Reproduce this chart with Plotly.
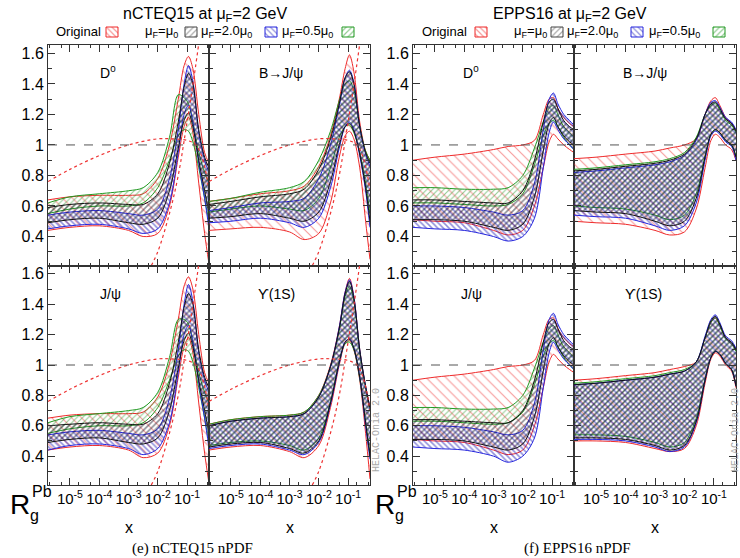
import plotly.graph_objects as go

W, H = 740, 558

# ---------------- data ----------------
X_GRID = [1.78e-6, 1e-5, 1e-4, 1e-3, 3.16e-3, 1e-2, 2.51e-2, 5.01e-2, 7.94e-2, 0.112, 0.158, 0.251, 0.398, 0.562]
X_TICKS = [1e-5, 1e-4, 1e-3, 1e-2, 1e-1]
X_TICKTEXT = ["10<sup>-5</sup>", "10<sup>-4</sup>", "10<sup>-3</sup>", "10<sup>-2</sup>", "10<sup>-1</sup>"]
Y_TICKS = [0.4, 0.6, 0.8, 1.0, 1.2, 1.4, 1.6]
Y_TICKTEXT = ["0.4", "0.6", "0.8", "1", "1.2", "1.4", "1.6"]
LEGEND_LABELS = ["Original", "μ<sub>F</sub>=μ<sub>0</sub>", "μ<sub>F</sub>=2.0μ<sub>0</sub>", "μ<sub>F</sub>=0.5μ<sub>0</sub>"]
PANEL_LABELS = ["D<sup>0</sup>", "B→J/ψ", "J/ψ", "ϒ(1S)"]

# nCTEQ15, D0
NC_D0_ORIG_HI = [0.64, 0.66, 0.67, 0.67, 0.68, 0.78, 1.00, 1.30, 1.52, 1.58, 1.50, 1.20, 0.95, 0.88]
NC_D0_ORIG_LO = [0.44, 0.46, 0.47, 0.44, 0.40, 0.42, 0.60, 0.92, 1.12, 1.18, 1.08, 0.75, 0.42, 0.22]
NC_D0_MU1_HI = [0.59, 0.61, 0.62, 0.61, 0.61, 0.68, 0.88, 1.15, 1.38, 1.47, 1.40, 1.10, 0.92, 0.85]
NC_D0_MU1_LO = [0.49, 0.51, 0.52, 0.49, 0.48, 0.52, 0.70, 0.98, 1.16, 1.21, 1.12, 0.90, 0.70, 0.55]
NC_D0_MU2_HI = [0.54, 0.56, 0.57, 0.55, 0.54, 0.58, 0.78, 1.10, 1.40, 1.52, 1.42, 1.08, 0.90, 0.82]
NC_D0_MU2_LO = [0.45, 0.47, 0.48, 0.45, 0.42, 0.45, 0.62, 0.95, 1.20, 1.26, 1.15, 0.88, 0.65, 0.45]
NC_D0_MU05_HI = [0.62, 0.66, 0.68, 0.70, 0.72, 0.82, 1.05, 1.33, 1.31, 1.27, 1.15, 0.95, 0.82, 0.75]
NC_D0_MU05_LO = [0.55, 0.58, 0.60, 0.60, 0.62, 0.72, 0.90, 1.06, 1.10, 1.09, 1.02, 0.85, 0.65, 0.50]

# nCTEQ15, B->J/psi
NC_BJ_ORIG_HI = [0.63, 0.65, 0.68, 0.70, 0.73, 0.86, 1.06, 1.30, 1.50, 1.59, 1.48, 1.15, 0.96, 0.90]
NC_BJ_ORIG_LO = [0.44, 0.45, 0.46, 0.43, 0.38, 0.42, 0.62, 0.92, 1.06, 1.09, 1.04, 0.85, 0.50, 0.25]
NC_BJ_MU1_HI = [0.61, 0.63, 0.66, 0.68, 0.71, 0.84, 1.04, 1.27, 1.44, 1.48, 1.40, 1.12, 0.95, 0.88]
NC_BJ_MU1_LO = [0.52, 0.53, 0.55, 0.52, 0.50, 0.56, 0.76, 1.00, 1.12, 1.14, 1.09, 0.94, 0.72, 0.50]
NC_BJ_MU2_HI = [0.57, 0.59, 0.62, 0.63, 0.65, 0.78, 1.00, 1.26, 1.44, 1.49, 1.41, 1.12, 0.94, 0.86]
NC_BJ_MU2_LO = [0.49, 0.50, 0.52, 0.49, 0.46, 0.52, 0.72, 0.98, 1.12, 1.15, 1.10, 0.93, 0.70, 0.46]
NC_BJ_MU05_HI = [0.63, 0.65, 0.69, 0.72, 0.76, 0.90, 1.09, 1.29, 1.40, 1.42, 1.36, 1.12, 0.96, 0.90]
NC_BJ_MU05_LO = [0.56, 0.58, 0.60, 0.58, 0.57, 0.65, 0.85, 1.05, 1.12, 1.13, 1.08, 0.95, 0.75, 0.55]

# nCTEQ15, J/psi
NC_JP_ORIG_HI = [0.65, 0.67, 0.68, 0.68, 0.69, 0.79, 1.01, 1.30, 1.52, 1.58, 1.50, 1.20, 0.95, 0.88]
NC_JP_ORIG_LO = [0.44, 0.46, 0.47, 0.44, 0.39, 0.42, 0.60, 0.92, 1.12, 1.18, 1.08, 0.75, 0.42, 0.22]
NC_JP_MU1_HI = [0.60, 0.61, 0.62, 0.61, 0.61, 0.68, 0.88, 1.15, 1.38, 1.47, 1.40, 1.10, 0.92, 0.85]
NC_JP_MU1_LO = [0.49, 0.51, 0.52, 0.49, 0.48, 0.52, 0.70, 0.98, 1.16, 1.21, 1.12, 0.90, 0.70, 0.55]
NC_JP_MU2_HI = [0.54, 0.56, 0.57, 0.55, 0.54, 0.58, 0.78, 1.10, 1.40, 1.53, 1.42, 1.08, 0.90, 0.82]
NC_JP_MU2_LO = [0.44, 0.47, 0.48, 0.45, 0.41, 0.45, 0.62, 0.95, 1.20, 1.26, 1.15, 0.88, 0.65, 0.45]
NC_JP_MU05_HI = [0.62, 0.66, 0.68, 0.70, 0.72, 0.82, 1.05, 1.30, 1.30, 1.27, 1.15, 0.95, 0.82, 0.75]
NC_JP_MU05_LO = [0.55, 0.58, 0.60, 0.60, 0.62, 0.72, 0.90, 1.06, 1.10, 1.09, 1.02, 0.85, 0.65, 0.50]

# nCTEQ15, Upsilon(1S)
NC_UP_ORIG_HI = [0.61, 0.64, 0.66, 0.67, 0.69, 0.80, 1.00, 1.25, 1.48, 1.57, 1.45, 1.10, 0.85, 0.70]
NC_UP_ORIG_LO = [0.44, 0.46, 0.47, 0.43, 0.39, 0.47, 0.72, 1.00, 1.14, 1.16, 1.10, 0.90, 0.55, 0.25]
NC_UP_MU1_HI = [0.60, 0.63, 0.65, 0.66, 0.68, 0.79, 0.99, 1.24, 1.47, 1.55, 1.44, 1.10, 0.86, 0.72]
NC_UP_MU1_LO = [0.46, 0.48, 0.49, 0.45, 0.42, 0.50, 0.75, 1.02, 1.15, 1.17, 1.11, 0.92, 0.62, 0.40]
NC_UP_MU2_HI = [0.60, 0.63, 0.65, 0.66, 0.68, 0.79, 0.99, 1.25, 1.48, 1.56, 1.45, 1.10, 0.86, 0.72]
NC_UP_MU2_LO = [0.45, 0.47, 0.48, 0.44, 0.41, 0.49, 0.74, 1.01, 1.15, 1.17, 1.11, 0.92, 0.60, 0.38]
NC_UP_MU05_HI = [0.61, 0.64, 0.66, 0.67, 0.69, 0.80, 0.99, 1.23, 1.45, 1.52, 1.42, 1.08, 0.85, 0.70]
NC_UP_MU05_LO = [0.47, 0.49, 0.50, 0.47, 0.44, 0.52, 0.76, 1.02, 1.14, 1.15, 1.10, 0.91, 0.62, 0.42]

# nCTEQ15 original nPDF curves (red dotted)
NC_DOT1_X = [1.78e-6, 1e-5, 1e-4, 1e-3, 1e-2, 3e-2, 1e-1, 0.2, 0.35, 0.562]
NC_DOT1_Y = [0.76, 0.84, 0.93, 1.00, 1.04, 1.04, 1.03, 1.00, 0.90, 0.70]
NC_DOT2_X = [6e-3, 1e-2, 2.5e-2, 5e-2, 0.1, 0.16, 0.25]
NC_DOT2_Y = [0.21, 0.30, 0.55, 0.80, 1.15, 1.40, 1.66]

# EPPS16, D0
EP_D0_ORIG_HI = [0.90, 0.92, 0.94, 0.97, 0.99, 1.00, 1.03, 1.20, 1.30, 1.31, 1.24, 1.18, 1.14, 1.12]
EP_D0_ORIG_LO = [0.51, 0.50, 0.49, 0.44, 0.41, 0.44, 0.60, 0.85, 1.02, 1.07, 1.04, 1.00, 0.97, 0.95]
EP_D0_MU1_HI = [0.64, 0.64, 0.63, 0.62, 0.62, 0.70, 0.90, 1.15, 1.28, 1.30, 1.24, 1.16, 1.12, 1.10]
EP_D0_MU1_LO = [0.51, 0.51, 0.50, 0.46, 0.44, 0.48, 0.66, 0.96, 1.14, 1.18, 1.12, 1.06, 1.02, 1.00]
EP_D0_MU2_HI = [0.60, 0.60, 0.59, 0.56, 0.54, 0.57, 0.75, 1.10, 1.30, 1.34, 1.27, 1.20, 1.16, 1.13]
EP_D0_MU2_LO = [0.46, 0.45, 0.44, 0.40, 0.37, 0.40, 0.52, 0.85, 1.08, 1.15, 1.10, 1.04, 1.00, 0.97]
EP_D0_MU05_HI = [0.72, 0.72, 0.71, 0.71, 0.72, 0.80, 0.98, 1.15, 1.24, 1.26, 1.20, 1.12, 1.08, 1.05]
EP_D0_MU05_LO = [0.62, 0.62, 0.61, 0.60, 0.61, 0.68, 0.87, 1.06, 1.14, 1.16, 1.12, 1.05, 1.00, 0.97]

# EPPS16, B->J/psi
EP_BJ_ORIG_HI = [0.91, 0.92, 0.94, 0.96, 0.98, 1.00, 1.04, 1.20, 1.29, 1.31, 1.26, 1.18, 1.14, 1.10]
EP_BJ_ORIG_LO = [0.50, 0.49, 0.48, 0.44, 0.41, 0.43, 0.58, 0.85, 1.03, 1.07, 1.05, 1.00, 0.97, 0.90]
EP_BJ_MU1_HI = [0.83, 0.84, 0.86, 0.88, 0.90, 0.94, 1.04, 1.20, 1.27, 1.28, 1.24, 1.17, 1.14, 1.09]
EP_BJ_MU1_LO = [0.57, 0.56, 0.55, 0.50, 0.47, 0.50, 0.65, 0.92, 1.07, 1.10, 1.08, 1.03, 1.00, 0.92]
EP_BJ_MU2_HI = [0.82, 0.83, 0.85, 0.87, 0.89, 0.93, 1.03, 1.20, 1.28, 1.29, 1.25, 1.18, 1.15, 1.10]
EP_BJ_MU2_LO = [0.54, 0.53, 0.52, 0.47, 0.44, 0.47, 0.62, 0.90, 1.06, 1.09, 1.07, 1.02, 0.99, 0.90]
EP_BJ_MU05_HI = [0.84, 0.85, 0.87, 0.89, 0.91, 0.95, 1.05, 1.20, 1.26, 1.27, 1.23, 1.16, 1.13, 1.08]
EP_BJ_MU05_LO = [0.60, 0.59, 0.58, 0.54, 0.51, 0.54, 0.68, 0.93, 1.07, 1.10, 1.08, 1.03, 1.00, 0.93]

# EPPS16, J/psi
EP_JP_ORIG_HI = [0.90, 0.92, 0.94, 0.97, 0.99, 1.00, 1.03, 1.20, 1.30, 1.31, 1.24, 1.18, 1.14, 1.12]
EP_JP_ORIG_LO = [0.51, 0.50, 0.49, 0.44, 0.41, 0.44, 0.60, 0.85, 1.02, 1.07, 1.04, 1.00, 0.97, 0.95]
EP_JP_MU1_HI = [0.64, 0.64, 0.63, 0.62, 0.62, 0.70, 0.90, 1.15, 1.28, 1.30, 1.24, 1.16, 1.12, 1.10]
EP_JP_MU1_LO = [0.51, 0.51, 0.50, 0.46, 0.44, 0.48, 0.66, 0.96, 1.14, 1.18, 1.12, 1.06, 1.02, 1.00]
EP_JP_MU2_HI = [0.60, 0.60, 0.59, 0.56, 0.54, 0.57, 0.75, 1.10, 1.30, 1.34, 1.27, 1.20, 1.16, 1.13]
EP_JP_MU2_LO = [0.46, 0.45, 0.44, 0.40, 0.36, 0.40, 0.52, 0.85, 1.08, 1.15, 1.10, 1.04, 1.00, 0.97]
EP_JP_MU05_HI = [0.72, 0.72, 0.71, 0.71, 0.72, 0.80, 0.98, 1.15, 1.24, 1.26, 1.20, 1.12, 1.08, 1.05]
EP_JP_MU05_LO = [0.63, 0.63, 0.62, 0.61, 0.62, 0.69, 0.87, 1.06, 1.14, 1.16, 1.12, 1.05, 1.00, 0.97]

# EPPS16, Upsilon(1S)
EP_UP_ORIG_HI = [0.90, 0.91, 0.93, 0.95, 0.97, 0.99, 1.02, 1.18, 1.28, 1.31, 1.26, 1.18, 1.14, 1.10]
EP_UP_ORIG_LO = [0.50, 0.50, 0.49, 0.45, 0.43, 0.45, 0.60, 0.88, 1.04, 1.08, 1.06, 1.00, 0.96, 0.85]
EP_UP_MU1_HI = [0.87, 0.88, 0.90, 0.92, 0.94, 0.96, 1.02, 1.18, 1.29, 1.32, 1.27, 1.18, 1.15, 1.10]
EP_UP_MU1_LO = [0.52, 0.52, 0.51, 0.47, 0.44, 0.47, 0.63, 0.90, 1.05, 1.09, 1.07, 1.01, 0.97, 0.86]
EP_UP_MU2_HI = [0.87, 0.88, 0.90, 0.92, 0.94, 0.96, 1.02, 1.19, 1.30, 1.33, 1.28, 1.19, 1.16, 1.11]
EP_UP_MU2_LO = [0.51, 0.51, 0.50, 0.46, 0.43, 0.46, 0.62, 0.90, 1.05, 1.09, 1.07, 1.01, 0.97, 0.86]
EP_UP_MU05_HI = [0.88, 0.89, 0.91, 0.93, 0.95, 0.97, 1.02, 1.18, 1.28, 1.31, 1.26, 1.17, 1.14, 1.09]
EP_UP_MU05_LO = [0.54, 0.54, 0.53, 0.49, 0.46, 0.49, 0.65, 0.91, 1.05, 1.09, 1.07, 1.01, 0.97, 0.87]

# ---------------- styles ----------------
# (line colour, pattern colour, shape, size, solidity)
STY_ORIG = ("#ee2a2a", "#ee3333", "\\", 7, 0.16)
STY_MU1 = ("#111111", "#1c1c2c", "/", 4, 0.4)
STY_MU2 = ("#2424dd", "#1e1eb8", "\\", 4, 0.38)
STY_MU05 = ("#229922", "#2a9a2a", "/", 4, 0.28)

PANELS = [
    (1, [(NC_D0_ORIG_LO, NC_D0_ORIG_HI, STY_ORIG), (NC_D0_MU05_LO, NC_D0_MU05_HI, STY_MU05),
         (NC_D0_MU2_LO, NC_D0_MU2_HI, STY_MU2), (NC_D0_MU1_LO, NC_D0_MU1_HI, STY_MU1)], True),
    (2, [(NC_BJ_ORIG_LO, NC_BJ_ORIG_HI, STY_ORIG), (NC_BJ_MU05_LO, NC_BJ_MU05_HI, STY_MU05),
         (NC_BJ_MU2_LO, NC_BJ_MU2_HI, STY_MU2), (NC_BJ_MU1_LO, NC_BJ_MU1_HI, STY_MU1)], True),
    (3, [(NC_JP_ORIG_LO, NC_JP_ORIG_HI, STY_ORIG), (NC_JP_MU05_LO, NC_JP_MU05_HI, STY_MU05),
         (NC_JP_MU2_LO, NC_JP_MU2_HI, STY_MU2), (NC_JP_MU1_LO, NC_JP_MU1_HI, STY_MU1)], True),
    (4, [(NC_UP_ORIG_LO, NC_UP_ORIG_HI, STY_ORIG), (NC_UP_MU05_LO, NC_UP_MU05_HI, STY_MU05),
         (NC_UP_MU2_LO, NC_UP_MU2_HI, STY_MU2), (NC_UP_MU1_LO, NC_UP_MU1_HI, STY_MU1)], True),
    (5, [(EP_D0_ORIG_LO, EP_D0_ORIG_HI, STY_ORIG), (EP_D0_MU05_LO, EP_D0_MU05_HI, STY_MU05),
         (EP_D0_MU2_LO, EP_D0_MU2_HI, STY_MU2), (EP_D0_MU1_LO, EP_D0_MU1_HI, STY_MU1)], False),
    (6, [(EP_BJ_ORIG_LO, EP_BJ_ORIG_HI, STY_ORIG), (EP_BJ_MU05_LO, EP_BJ_MU05_HI, STY_MU05),
         (EP_BJ_MU2_LO, EP_BJ_MU2_HI, STY_MU2), (EP_BJ_MU1_LO, EP_BJ_MU1_HI, STY_MU1)], False),
    (7, [(EP_JP_ORIG_LO, EP_JP_ORIG_HI, STY_ORIG), (EP_JP_MU05_LO, EP_JP_MU05_HI, STY_MU05),
         (EP_JP_MU2_LO, EP_JP_MU2_HI, STY_MU2), (EP_JP_MU1_LO, EP_JP_MU1_HI, STY_MU1)], False),
    (8, [(EP_UP_ORIG_LO, EP_UP_ORIG_HI, STY_ORIG), (EP_UP_MU05_LO, EP_UP_MU05_HI, STY_MU05),
         (EP_UP_MU2_LO, EP_UP_MU2_HI, STY_MU2), (EP_UP_MU1_LO, EP_UP_MU1_HI, STY_MU1)], False),
]

# panel geometry in pixels
COLS = [(48, 209), (209, 370), (413, 574), (574, 736)]
ROWS = [(45, 265.5), (265.5, 485)]
AX_POS = {1: (0, 0), 2: (1, 0), 3: (0, 1), 4: (1, 1), 5: (2, 0), 6: (3, 0), 7: (2, 1), 8: (3, 1)}
XR = [-5.75, -0.25]
YR = [0.21, 1.655]
FONT = "Liberation Sans, Arial, sans-serif"


def px(x):
    return x / W


def py(y):
    return 1 - y / H


fig = go.Figure()

for idx, bands, dotted in PANELS:
    xa = "x" if idx == 1 else f"x{idx}"
    ya = "y" if idx == 1 else f"y{idx}"
    for lo, hi, (lc, pc, shp, sz, sol) in bands:
        fig.add_trace(go.Scatter(x=X_GRID, y=lo, xaxis=xa, yaxis=ya, mode="lines",
                                 line=dict(color=lc, width=1, shape="spline", smoothing=0.9),
                                 showlegend=False, hoverinfo="skip"))
        fig.add_trace(go.Scatter(x=X_GRID, y=hi, xaxis=xa, yaxis=ya, mode="lines",
                                 line=dict(color=lc, width=1, shape="spline", smoothing=0.9),
                                 fill="tonexty", fillcolor="rgba(0,0,0,0)",
                                 fillpattern=dict(shape=shp, fgcolor=pc, bgcolor="rgba(0,0,0,0)",
                                                  size=sz, solidity=sol),
                                 showlegend=False, hoverinfo="skip"))
    if dotted:
        for dx, dy in ((NC_DOT1_X, NC_DOT1_Y), (NC_DOT2_X, NC_DOT2_Y)):
            fig.add_trace(go.Scatter(x=dx, y=dy, xaxis=xa, yaxis=ya, mode="lines",
                                     line=dict(color="#ee3333", width=1.2, dash="dot", shape="spline"),
                                     showlegend=False, hoverinfo="skip"))

layout = dict(
    width=W, height=H, margin=dict(l=0, r=0, t=0, b=0),
    paper_bgcolor="white", plot_bgcolor="rgba(0,0,0,0)",
    font=dict(family=FONT, color="black"), showlegend=False,
)

for idx, (c, r) in AX_POS.items():
    x0, x1 = COLS[c]
    y0, y1 = ROWS[r]
    xk = "xaxis" if idx == 1 else f"xaxis{idx}"
    yk = "yaxis" if idx == 1 else f"yaxis{idx}"
    bottom = r == 1
    left = c in (0, 2)
    layout[xk] = dict(
        domain=[px(x0), px(x1)], anchor="y" if idx == 1 else f"y{idx}", type="log", range=XR,
        showgrid=False, zeroline=False, showline=True, linecolor="#333", linewidth=1, mirror="ticks",
        ticks="inside", ticklen=7, tickcolor="#333", tickvals=X_TICKS, ticktext=X_TICKTEXT,
        showticklabels=bottom, tickangle=0, tickfont=dict(size=15, family=FONT),
        minor=dict(ticks="inside", ticklen=3, tickcolor="#333", showgrid=False),
    )
    layout[yk] = dict(
        domain=[py(y1), py(y0)], anchor="x" if idx == 1 else f"x{idx}", range=YR,
        showgrid=False, zeroline=False, showline=True, linecolor="#333", linewidth=1, mirror="ticks",
        ticks="inside", ticklen=7, tickcolor="#333", tickvals=Y_TICKS, ticktext=Y_TICKTEXT,
        showticklabels=left, tickfont=dict(size=16, family=FONT),
        minor=dict(ticks="inside", ticklen=4, tickcolor="#333", dtick=0.1, showgrid=False),
    )

# overlay axis in pixel coordinates for legend swatches
layout["xaxis9"] = dict(domain=[0, 1], range=[0, W], visible=False, anchor="y9")
layout["yaxis9"] = dict(domain=[0, 1], range=[H, 0], visible=False, anchor="x9")
fig.update_layout(**layout)

shapes = []
for idx in AX_POS:
    xr = "x" if idx == 1 else f"x{idx}"
    yr = "y" if idx == 1 else f"y{idx}"
    shapes.append(dict(type="line", xref=f"{xr} domain", yref=yr, x0=0, x1=1, y0=1, y1=1,
                       line=dict(color="#555", width=1, dash="dash")))
fig.update_layout(shapes=shapes)

ann = []
FIG_SPECS = [
    ("nCTEQ15 at μ<sub>F</sub>=2 GeV", 205, "(e) nCTEQ15 nPDF", 192,
     [(78, 112), (161, 191), (227, 271), (307, 348)]),
    ("EPPS16 at μ<sub>F</sub>=2 GeV", 570, "(f) EPPS16 nPDF", 577,
     [(444, 481), (530, 557), (592, 637), (674, 719)]),
]
SWATCH = [STY_ORIG, STY_MU1, STY_MU2, STY_MU05]
for title, tx, cap, cx, leg in FIG_SPECS:
    ann.append(dict(text=title, x=px(tx), y=py(15), xref="paper", yref="paper", showarrow=False,
                    font=dict(size=16, family=FONT), xanchor="center", yanchor="middle"))
    ann.append(dict(text=cap, x=px(cx), y=py(548), xref="paper", yref="paper", showarrow=False,
                    font=dict(size=15, family="Liberation Serif, Times New Roman, serif"),
                    xanchor="center", yanchor="middle"))
    for (lx, bx), lab, (lc, pc, shp, sz, sol) in zip(leg, LEGEND_LABELS, SWATCH):
        ann.append(dict(text=lab, x=px(lx), y=py(32), xref="paper", yref="paper", showarrow=False,
                        font=dict(size=13, family=FONT), xanchor="center", yanchor="middle"))
        fig.add_trace(go.Scatter(x=[bx - 6, bx + 6, bx + 6, bx - 6, bx - 6],
                                 y=[27, 27, 37, 37, 27], xaxis="x9", yaxis="y9", mode="lines",
                                 line=dict(color=lc if lc != "#111111" else "#444", width=1),
                                 fill="toself", fillcolor="rgba(0,0,0,0)",
                                 fillpattern=dict(shape=shp, fgcolor=pc if pc != "#1c1c2c" else "#555",
                                                  bgcolor="rgba(0,0,0,0)", size=4, solidity=0.3),
                                 showlegend=False, hoverinfo="skip"))

for x0 in (20, 385):
    ann.append(dict(text="R", x=px(x0), y=py(504), xref="paper", yref="paper", showarrow=False,
                    font=dict(size=28, family=FONT), xanchor="center", yanchor="middle"))
    ann.append(dict(text="Pb", x=px(x0 + 22), y=py(491), xref="paper", yref="paper", showarrow=False,
                    font=dict(size=16, family=FONT), xanchor="center", yanchor="middle"))
    ann.append(dict(text="g", x=px(x0 + 14), y=py(515), xref="paper", yref="paper", showarrow=False,
                    font=dict(size=16, family=FONT), xanchor="center", yanchor="middle"))
for c in COLS:
    ann.append(dict(text="x", x=px((c[0] + c[1]) / 2), y=py(527), xref="paper", yref="paper",
                    showarrow=False, font=dict(size=16, family=FONT), xanchor="center", yanchor="middle"))

LABEL_POS = {1: (108, 72), 2: (281, 73), 3: (110, 294), 4: (276, 294),
             5: (471, 72), 6: (645, 73), 7: (471, 294), 8: (643, 294)}
LABEL_OF = {1: 0, 2: 1, 3: 2, 4: 3, 5: 0, 6: 1, 7: 2, 8: 3}
for idx, (lx, ly) in LABEL_POS.items():
    ann.append(dict(text=PANEL_LABELS[LABEL_OF[idx]], x=px(lx), y=py(ly), xref="paper", yref="paper",
                    showarrow=False, font=dict(size=14, family=FONT), xanchor="center", yanchor="middle"))

for hx in (377, 736):
    ann.append(dict(text="HELAC-Onia 2.0", x=px(hx), y=py(430), xref="paper", yref="paper",
                    showarrow=False, textangle=-90, font=dict(size=10, family="Liberation Mono, monospace",
                                                              color="#aaaaaa"),
                    xanchor="center", yanchor="middle"))

fig.update_layout(annotations=ann)
fig.write_html("out.html", config={"displayModeBar": False},
               post_script="document.body.style.margin='0px';document.body.style.padding='0px';")
